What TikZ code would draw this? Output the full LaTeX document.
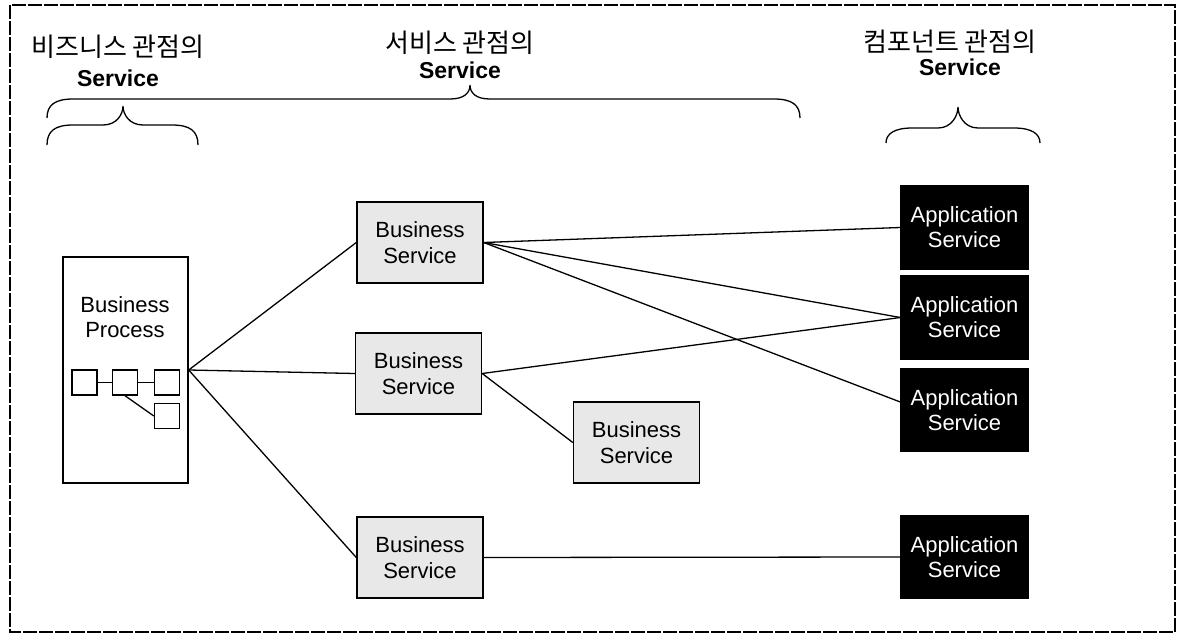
\documentclass[tikz,border=0pt]{standalone}
\usepackage{fontspec}
\setmainfont{Liberation Sans}
\newfontfamily\krfont{Noto Sans CJK KR}
\begin{document}
\begin{tikzpicture}[x=1pt,y=-1pt,
  frame/.style={draw=black,line width=1.2pt,dash pattern=on 14pt off 2pt},
  bsbox/.style={draw=black,line width=1.4pt,fill=black!9,minimum width=126pt,minimum height=81pt,align=center,inner sep=0pt,font=\fontsize{22}{26}\selectfont},
  appbox/.style={draw=black,line width=1.4pt,fill=black,text=white,minimum width=127pt,minimum height=83pt,align=center,inner sep=0pt,font=\fontsize{22}{25}\selectfont},
  bpbox/.style={draw=black,line width=1.4pt,minimum width=125pt,minimum height=226pt,inner sep=0pt},
  sq/.style={draw=black,line width=1.4pt,minimum size=25pt,inner sep=0pt},
  conn/.style={draw=black,line width=1.3pt},
  krlabel/.style={font=\krfont\fontsize{26}{29}\selectfont,inner sep=0pt},
  svlabel/.style={font=\bfseries\fontsize{23}{26}\selectfont,inner sep=0pt},
  bracepath/.style={draw=black,line width=1.3pt}
]
\useasboundingbox (0,0) rectangle (1179,634);
\draw[frame] (10,5) rectangle (1175,632);

% headings
\node[krlabel] (kr1) at (118,47) {비즈니스 관점의};
\node[svlabel] (sv1) at (118,78) {Service};
\node[krlabel] (kr2) at (460,43) {서비스 관점의};
\node[svlabel] (sv2) at (460,70) {Service};
\node[krlabel] (kr3) at (950,42) {컴포넌트 관점의};
\node[svlabel] (sv3) at (960,67) {Service};

% braces
\newcommand{\mybrace}[6]{%
  \draw[bracepath] (#1,#6) .. controls (#1,#4+6) and (#1+8,#4) .. (#1+26,#4)
    -- (#3-20,#4) .. controls (#3-6,#4) and (#3,#5+8) .. (#3,#5)
    .. controls (#3,#5+8) and (#3+6,#4) .. (#3+20,#4)
    -- (#2-26,#4) .. controls (#2-8,#4) and (#2,#4+6) .. (#2,#6);}
\mybrace{47}{198}{123}{125}{106}{145}
\mybrace{47}{800}{470}{99}{85}{118}
\mybrace{886}{1040}{958}{128}{107}{143}

% business process
\node[bpbox] (bp) at (125.5,370) {};
\node[align=center,inner sep=0pt,font=\fontsize{22}{25}\selectfont] (bptext) at (125,317.5) {Business\\Process};
\node[sq] (sq1) at (84.5,382.5) {};
\node[sq] (sq2) at (125,382.5) {};
\node[sq] (sq3) at (167,382.5) {};
\node[sq] (sq4) at (167,416) {};
\draw[conn] (sq1.east) -- (sq2.west);
\draw[conn] (sq2.east) -- (sq3.west);
\draw[conn] (sq2.south) -- (sq4.west);

% business services
\node[bsbox] (bs1) at (420,242.5) {Business\\Service};
\node[bsbox] (bs2) at (418.5,373.5) {Business\\Service};
\node[bsbox] (bs3) at (636.5,442.5) {Business\\Service};
\node[bsbox] (bs4) at (420,557.5) {Business\\Service};

% application services
\node[appbox] (app1) at (964.5,227.5) {Application\\Service};
\node[appbox] (app2) at (964.5,317.5) {Application\\Service};
\node[appbox] (app3) at (964.5,410) {Application\\Service};
\node[appbox] (app4) at (964.5,557) {Application\\Service};

% connectors
\draw[conn] (bp.east) -- (bs1.west);
\draw[conn] (bp.east) -- (bs2.west);
\draw[conn] (bp.east) -- (bs4.west);
\draw[conn] (bs1.east) -- (app1.west);
\draw[conn] (bs1.east) -- (app2.west);
\draw[conn] (bs1.east) -- ([yshift=8pt]app3.west);
\draw[conn] (bs2.east) -- (app2.west);
\draw[conn] (bs2.east) -- (bs3.west);
\draw[conn] (bs4.east) -- (app4.west);
\end{tikzpicture}
\end{document}
